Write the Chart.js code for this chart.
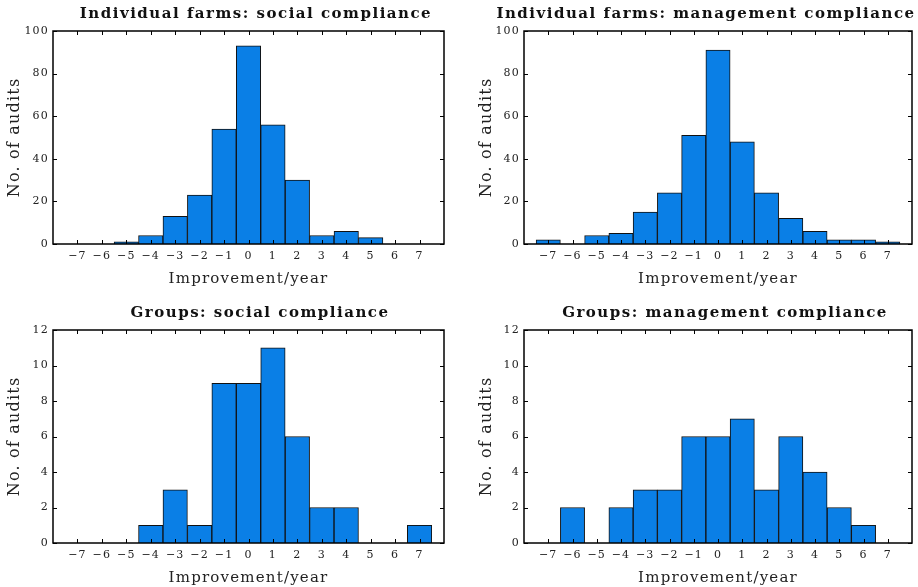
<!DOCTYPE html>
<html>
<head>
<meta charset="utf-8">
<script src="https://cdn.jsdelivr.net/npm/chart.js@4.4.0/dist/chart.umd.min.js"></script>
<style>
  html, body { margin: 0; padding: 0; background: #fff; overflow: hidden; }
  .panel { position: absolute; }
</style>
</head>
<body>
<div class="panel" style="left:0;top:0;width:459px;height:288px"><canvas id="c1"></canvas></div>
<div class="panel" style="left:459px;top:0;width:459px;height:288px"><canvas id="c2"></canvas></div>
<div class="panel" style="left:0;top:299px;width:459px;height:288px"><canvas id="c3"></canvas></div>
<div class="panel" style="left:459px;top:299px;width:459px;height:288px"><canvas id="c4"></canvas></div>
<script>
// bins (improvement/year)
const bins = [-7, -6, -5, -4, -3, -2, -1, 0, 1, 2, 3, 4, 5, 6, 7];

// counts per bin
const farmsSocial     = [0, 0, 1, 4, 13, 23, 54, 93, 56, 30, 4, 6, 3, 0, 0];
const farmsManagement = [2, 0, 4, 5, 15, 24, 51, 91, 48, 24, 12, 6, 2, 2, 1];
const groupsSocial     = [0, 0, 0, 1, 3, 1, 9, 9, 11, 6, 2, 2, 0, 0, 1];
const groupsManagement = [0, 2, 0, 2, 3, 3, 6, 6, 7, 3, 6, 4, 2, 1, 0];

const titles = [
  'Individual farms: social compliance',
  'Individual farms: management compliance',
  'Groups: social compliance',
  'Groups: management compliance'
];

const serif = '"DejaVu Serif", "Liberation Serif", serif';

// frame + inward ticks, matlab style
const frameTicks = {
  id: 'frameTicks',
  afterDraw(chart) {
    const ctx = chart.ctx;
    const a = chart.chartArea;
    const xs = chart.scales.x, ys = chart.scales.y;
    ctx.save();
    ctx.strokeStyle = '#000';
    ctx.lineWidth = 1;
    ctx.beginPath();
    xs.ticks.forEach(t => {
      if (t.value <= xs.min || t.value >= xs.max) return;
      const px = Math.round(xs.getPixelForValue(t.value)) + 0.5;
      ctx.moveTo(px, a.bottom); ctx.lineTo(px, a.bottom - 4);
      ctx.moveTo(px, a.top); ctx.lineTo(px, a.top + 4);
    });
    ys.ticks.forEach(t => {
      const py = Math.round(ys.getPixelForValue(t.value)) + 0.5;
      ctx.moveTo(a.left, py); ctx.lineTo(a.left + 4, py);
      ctx.moveTo(a.right, py); ctx.lineTo(a.right - 4, py);
    });
    ctx.stroke();
    ctx.lineWidth = 1.5;
    ctx.strokeRect(a.left, a.top, a.right - a.left, a.bottom - a.top);
    ctx.restore();
  }
};

// bold spaced title, centred where matlab put it (not on the canvas)
const panelTitle = {
  id: 'panelTitle',
  afterDraw(chart, args, opts) {
    const ctx = chart.ctx;
    ctx.save();
    ctx.letterSpacing = '1.5px';
    ctx.font = 'bold 15px ' + serif;
    ctx.fillStyle = '#111';
    ctx.textAlign = 'center';
    ctx.textBaseline = 'middle';
    ctx.fillText(opts.text, opts.cx, 14);
    ctx.restore();
  }
};

// letter spacing for axis titles
const spacing = {
  id: 'spacing',
  beforeDraw(chart) { chart.ctx.letterSpacing = '1.2px'; },
  afterDraw(chart) { chart.ctx.letterSpacing = '0px'; }
};

function makeChart(id, title, titleX, values, yMax, yStep, yWidth, rightPad, yTitlePad) {
  const ctx = document.getElementById(id).getContext('2d');
  return new Chart(ctx, {
    type: 'bar',
    data: {
      datasets: [{
        data: bins.map((b, i) => ({ x: b, y: values[i] })),
        backgroundColor: '#0a7fe6',
        borderColor: '#111',
        borderWidth: 1,
        barPercentage: 1,
        categoryPercentage: 1
      }]
    },
    options: {
      responsive: true,
      maintainAspectRatio: false,
      animation: false,
      layout: { padding: { left: 0, right: rightPad, top: 31, bottom: 0 } },
      plugins: {
        legend: { display: false },
        tooltip: { enabled: false },
        title: { display: false },
        panelTitle: { text: title, cx: titleX }
      },
      scales: {
        x: {
          type: 'linear',
          min: -8, max: 8,
          offset: false,
          grid: { display: false, drawTicks: false },
          border: { display: false },
          afterFit(s) { s.height = 44; },
          ticks: {
            stepSize: 1,
            padding: 6,
            color: '#222',
            font: { family: serif, size: 11 },
            maxRotation: 0,
            autoSkip: false,
            callback: v => (v <= -8 || v >= 8) ? '' : (v < 0 ? '\u2212' + (-v) : String(v))
          },
          title: {
            display: true,
            text: 'Improvement/year',
            color: '#222',
            font: { family: serif, size: 15 },
            padding: { top: 4, bottom: 0 }
          }
        },
        y: {
          min: 0, max: yMax,
          grid: { display: false, drawTicks: false },
          border: { display: false },
          afterFit(s) { s.width = yWidth; },
          ticks: {
            stepSize: yStep,
            padding: 4,
            color: '#222',
            font: { family: serif, size: 11 }
          },
          title: {
            display: true,
            text: 'No. of audits',
            color: '#222',
            font: { family: serif, size: 16 },
            padding: { top: yTitlePad, bottom: 0 }
          }
        }
      }
    },
    plugins: [frameTicks, spacing, panelTitle]
  });
}

makeChart('c1', titles[0], 256, farmsSocial, 100, 20, 53, 15, 5);
makeChart('c2', titles[1], 247, farmsManagement, 100, 20, 65, 3, 18);
makeChart('c3', titles[2], 260, groupsSocial, 12, 2, 53, 15, 5);
makeChart('c4', titles[3], 266, groupsManagement, 12, 2, 65, 3, 18);
</script>
</body>
</html>
